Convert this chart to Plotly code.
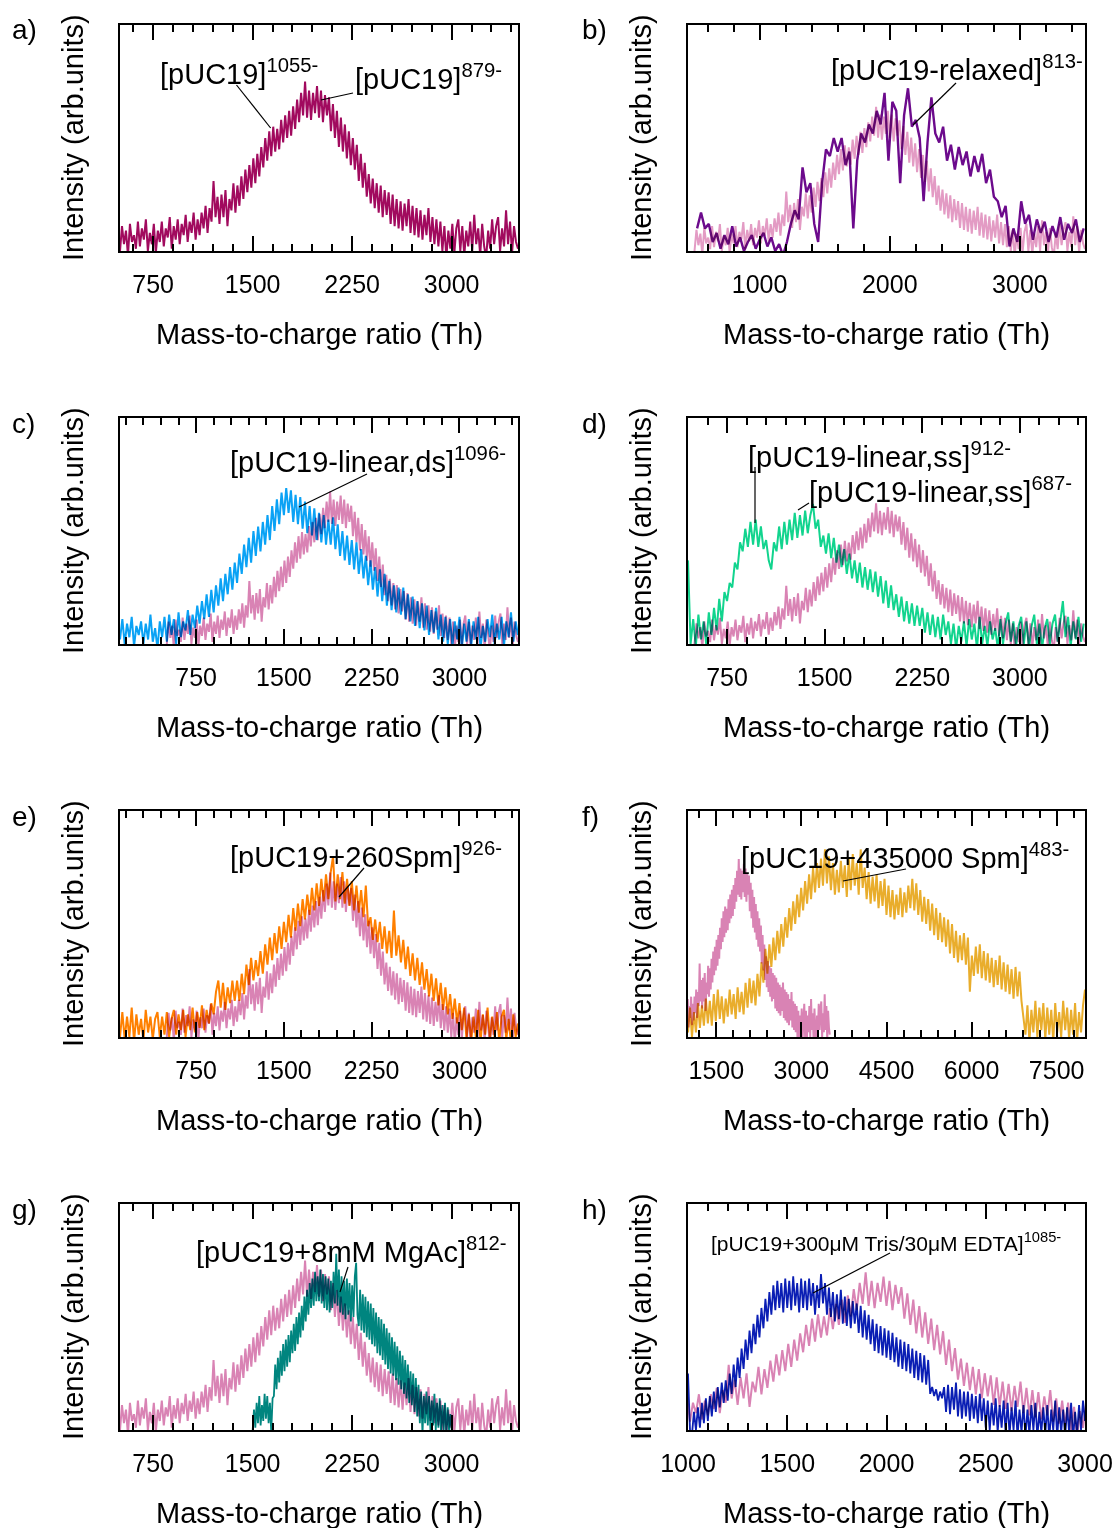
import plotly.graph_objects as go

W, H = 1117, 1528
FONT = "Liberation Sans, Arial, sans-serif"

# ---------------- data (normalised intensity, box height = 1) ----------------
# reference spectrum pUC19 (panel a; pink reference in the other panels)
ref_x0, ref_dx = 500, 15
ref_y = [0.00, 0.11, 0.03, 0.09, -0.02, 0.12, 0.04, 0.07, 0.01, 0.13,
         0.02, 0.10, 0.05, 0.14, 0.00, 0.08, 0.03, 0.12, -0.01, 0.09,
         0.04, 0.13, 0.02, 0.10, 0.06, 0.15, 0.01, 0.11, 0.05, 0.14,
         0.03, 0.12, 0.07, 0.16, 0.04, 0.13, 0.08, 0.17, 0.05, 0.14,
         0.07, 0.17, 0.10, 0.20, 0.08, 0.19, 0.13, 0.31, 0.15, 0.24,
         0.12, 0.25, 0.15, 0.27, 0.11, 0.23, 0.18, 0.30, 0.17, 0.29,
         0.20, 0.33, 0.23, 0.36, 0.26, 0.38, 0.28, 0.41, 0.30, 0.43,
         0.33, 0.46, 0.37, 0.50, 0.40, 0.53, 0.42, 0.55, 0.44, 0.54,
         0.45, 0.58, 0.48, 0.60, 0.50, 0.62, 0.51, 0.64, 0.54, 0.67,
         0.57, 0.70, 0.60, 0.75, 0.59, 0.71, 0.58, 0.70, 0.61, 0.73,
         0.59, 0.71, 0.57, 0.69, 0.60, 0.68, 0.53, 0.65, 0.50, 0.62,
         0.46, 0.59, 0.44, 0.56, 0.41, 0.53, 0.38, 0.50, 0.36, 0.47,
         0.31, 0.43, 0.28, 0.39, 0.24, 0.34, 0.21, 0.32, 0.19, 0.30,
         0.17, 0.29, 0.15, 0.27, 0.16, 0.26, 0.12, 0.25, 0.11, 0.23,
         0.10, 0.22, 0.09, 0.21, 0.11, 0.23, 0.08, 0.20, 0.07, 0.19,
         0.06, 0.18, 0.05, 0.16, 0.07, 0.19, 0.04, 0.15, 0.03, 0.14,
         0.02, 0.13, 0.00, 0.11, -0.03, 0.09, 0.01, 0.12, -0.01, 0.10,
         0.14, 0.00, 0.11, -0.02, 0.09, 0.02, 0.13, 0.00, 0.16, 0.03,
         0.10, -0.02, 0.12, 0.02, -0.03, 0.09, 0.01, 0.14, 0.03, 0.11,
         0.15, 0.00, 0.10, 0.02, 0.18, 0.03, 0.13, -0.01, 0.11, 0.04,
         0.01]

# b) pUC19-relaxed
relaxed_x0, relaxed_dx = 520, 30
relaxed_y = [0.10, 0.17, 0.10, 0.12, 0.04, 0.08, 0.01, 0.07, 0.03, 0.11,
             0.02, 0.06, 0.00, 0.04, 0.07, 0.01, 0.05, 0.08, 0.02, 0.06,
             0.00, 0.03, -0.02, 0.04, 0.12, 0.18, 0.14, 0.37, 0.26, 0.30,
             0.12, 0.04, 0.30, 0.45, 0.42, 0.50, 0.44, 0.50, 0.38, 0.44,
             0.10, 0.40, 0.52, 0.48, 0.56, 0.52, 0.62, 0.56, 0.70, 0.40,
             0.66, 0.62, 0.30, 0.60, 0.72, 0.55, 0.58, 0.50, 0.22, 0.48,
             0.68, 0.52, 0.48, 0.55, 0.40, 0.47, 0.36, 0.46, 0.38, 0.44,
             0.33, 0.42, 0.35, 0.43, 0.30, 0.36, 0.24, 0.22, 0.15, 0.20,
             0.02, 0.10, 0.04, 0.22, 0.12, 0.16, 0.05, 0.14, 0.08, 0.13,
             0.04, 0.11, 0.06, 0.15, 0.05, 0.12, 0.08, 0.14, 0.04, 0.10]

# c) pUC19-linear, ds
lin_ds_x0, lin_ds_dx = 100, 20
lin_ds_y = [0.02, 0.11, 0.00, 0.09, 0.03, 0.12, -0.01, 0.08, 0.04, 0.10,
            0.00, 0.09, 0.02, 0.13, 0.01, 0.07, -0.02, 0.10, 0.03, 0.12,
            0.01, 0.13, 0.04, 0.11, 0.00, 0.14, 0.03, 0.10, 0.06, 0.15,
            0.04, 0.13, 0.07, 0.17, 0.09, 0.19, 0.11, 0.22, 0.12, 0.24,
            0.14, 0.26, 0.17, 0.29, 0.19, 0.31, 0.22, 0.34, 0.24, 0.36,
            0.27, 0.40, 0.31, 0.44, 0.34, 0.47, 0.36, 0.50, 0.39, 0.52,
            0.41, 0.54, 0.44, 0.57, 0.46, 0.61, 0.50, 0.64, 0.53, 0.67,
            0.57, 0.69, 0.58, 0.68, 0.54, 0.66, 0.53, 0.65, 0.51, 0.63,
            0.49, 0.61, 0.48, 0.60, 0.46, 0.58, 0.45, 0.57, 0.44, 0.55,
            0.44, 0.56, 0.42, 0.53, 0.39, 0.50, 0.37, 0.48, 0.35, 0.46,
            0.33, 0.45, 0.31, 0.42, 0.29, 0.39, 0.26, 0.37, 0.24, 0.34,
            0.21, 0.33, 0.19, 0.31, 0.17, 0.28, 0.15, 0.26, 0.14, 0.25,
            0.13, 0.25, 0.11, 0.22, 0.10, 0.21, 0.08, 0.19, 0.07, 0.18,
            0.06, 0.17, 0.04, 0.15, 0.05, 0.16, 0.02, 0.13, 0.01, 0.12,
            0.00, 0.11, -0.01, 0.10, 0.02, 0.12, -0.02, 0.09, 0.01, 0.11,
            -0.01, 0.10, 0.02, 0.12, -0.02, 0.08, 0.01, 0.11, 0.03, 0.13,
            0.00, 0.09, 0.02, 0.12, -0.01, 0.10, 0.03, 0.14, 0.01, 0.10,
            0.04]

# d) pUC19-linear, ss
lin_ss_x0, lin_ss_dx = 450, 20
lin_ss_y = [0.37, 0.00, 0.11, -0.01, 0.13, 0.02, 0.10, 0.00, 0.14, 0.04,
            0.16, 0.06, 0.20, 0.10, 0.23, 0.19, 0.27, 0.25, 0.36, 0.33,
            0.45, 0.41, 0.51, 0.43, 0.54, 0.44, 0.55, 0.43, 0.52, 0.42,
            0.46, 0.37, 0.33, 0.45, 0.41, 0.52, 0.42, 0.54, 0.44, 0.55,
            0.46, 0.58, 0.47, 0.57, 0.48, 0.59, 0.49, 0.57, 0.62, 0.51,
            0.55, 0.43, 0.48, 0.40, 0.49, 0.38, 0.47, 0.36, 0.44, 0.34,
            0.42, 0.31, 0.40, 0.29, 0.37, 0.27, 0.36, 0.25, 0.34, 0.24,
            0.33, 0.23, 0.32, 0.21, 0.30, 0.18, 0.28, 0.16, 0.26, 0.15,
            0.22, 0.12, 0.21, 0.10, 0.19, 0.09, 0.18, 0.08, 0.17, 0.08,
            0.16, 0.05, 0.14, 0.04, 0.13, 0.03, 0.12, 0.02, 0.13, 0.04,
            0.10, 0.00, 0.09, -0.02, 0.08, 0.01, 0.10, -0.01, 0.11, 0.02,
            0.09, -0.02, 0.12, 0.00, 0.08, -0.01, 0.10, 0.02, 0.07, -0.02,
            0.11, 0.00, 0.09, 0.14, 0.01, 0.10, -0.01, 0.08, 0.12, 0.00,
            0.10, -0.02, 0.08, 0.13, 0.00, 0.09, -0.02, 0.07, 0.11, 0.00,
            0.09, 0.13, 0.01, 0.10, 0.19, 0.03, 0.12, -0.01, 0.10, 0.02,
            0.12, 0.01, 0.09]

# e) pUC19 + 260 Spm
spm260_x0, spm260_dx = 100, 20
spm260_y = [0.00, 0.11, -0.01, 0.09, 0.00, 0.13, -0.02, 0.10, 0.01, 0.08,
            -0.02, 0.12, 0.02, 0.09, -0.01, 0.08, 0.11, 0.00, 0.09, 0.01,
            0.11, 0.00, 0.08, 0.12, 0.01, 0.10, 0.03, 0.12, 0.00, 0.10,
            0.03, 0.13, 0.02, 0.11, 0.04, 0.14, 0.03, 0.12, 0.06, 0.15,
            0.10, 0.20, 0.25, 0.13, 0.24, 0.12, 0.22, 0.15, 0.25, 0.16,
            0.25, 0.16, 0.28, 0.19, 0.32, 0.23, 0.35, 0.25, 0.34, 0.27,
            0.38, 0.28, 0.41, 0.32, 0.44, 0.34, 0.46, 0.37, 0.49, 0.39,
            0.51, 0.42, 0.54, 0.44, 0.57, 0.47, 0.59, 0.49, 0.61, 0.52,
            0.63, 0.54, 0.66, 0.56, 0.68, 0.58, 0.70, 0.60, 0.72, 0.61,
            0.73, 0.80, 0.60, 0.72, 0.61, 0.73, 0.59, 0.70, 0.58, 0.69,
            0.56, 0.67, 0.55, 0.65, 0.53, 0.67, 0.49, 0.53, 0.43, 0.52,
            0.42, 0.51, 0.39, 0.49, 0.37, 0.47, 0.35, 0.56, 0.36, 0.45,
            0.33, 0.43, 0.30, 0.40, 0.27, 0.37, 0.25, 0.35, 0.23, 0.33,
            0.21, 0.30, 0.18, 0.28, 0.16, 0.26, 0.14, 0.24, 0.12, 0.22,
            0.10, 0.19, 0.08, 0.17, 0.06, 0.15, 0.03, 0.13, -0.01, 0.10,
            -0.02, 0.09, 0.00, 0.12, -0.02, 0.10, 0.01, 0.13, -0.01, 0.09,
            0.00, 0.11, -0.02, 0.09, 0.12, -0.01, 0.08, -0.03, 0.10, 0.00,
            0.06]

# f) pUC19 + 435000 Spm
spm435k_x0, spm435k_dx = 1000, 35
spm435k_y = [0.02, 0.13, 0.00, 0.11, 0.02, 0.15, 0.04, 0.14, 0.05, 0.17,
             0.06, 0.16, 0.05, 0.19, 0.07, 0.21, 0.08, 0.18, 0.06, 0.17,
             0.09, 0.21, 0.10, 0.19, 0.08, 0.22, 0.11, 0.20, 0.10, 0.24,
             0.13, 0.26, 0.15, 0.25, 0.14, 0.28, 0.18, 0.33, 0.24, 0.39,
             0.28, 0.41, 0.31, 0.44, 0.34, 0.47, 0.37, 0.50, 0.40, 0.53,
             0.44, 0.57, 0.47, 0.60, 0.50, 0.63, 0.53, 0.66, 0.56, 0.69,
             0.59, 0.72, 0.61, 0.75, 0.64, 0.77, 0.66, 0.79, 0.67, 0.83,
             0.68, 0.80, 0.65, 0.77, 0.63, 0.74, 0.64, 0.78, 0.66, 0.76,
             0.62, 0.79, 0.65, 0.81, 0.67, 0.77, 0.63, 0.83, 0.66, 0.75,
             0.61, 0.73, 0.59, 0.71, 0.60, 0.72, 0.57, 0.69, 0.58, 0.70,
             0.54, 0.67, 0.53, 0.65, 0.52, 0.63, 0.54, 0.66, 0.53, 0.64,
             0.55, 0.67, 0.57, 0.70, 0.56, 0.68, 0.54, 0.65, 0.51, 0.62,
             0.50, 0.61, 0.47, 0.59, 0.45, 0.57, 0.43, 0.55, 0.42, 0.53,
             0.40, 0.52, 0.37, 0.50, 0.35, 0.47, 0.33, 0.45, 0.34, 0.46,
             0.32, 0.44, 0.20, 0.36, 0.27, 0.40, 0.28, 0.41, 0.26, 0.38,
             0.25, 0.37, 0.24, 0.35, 0.22, 0.34, 0.23, 0.36, 0.21, 0.33,
             0.20, 0.32, 0.19, 0.30, 0.17, 0.31, 0.18, 0.29, 0.16, 0.08,
             0.01, 0.14, -0.02, 0.12, 0.02, 0.16, 0.00, 0.13, 0.03, 0.15,
             -0.01, 0.13, 0.01, 0.12, -0.02, 0.15, 0.02, 0.11, 0.00, 0.16,
             0.03, 0.13, -0.01, 0.12, 0.01, 0.15, -0.02, 0.11, 0.02, 0.14,
             0.21]

# g) pUC19 + 8 mM MgAc
mgac_x0, mgac_dx = 1500, 10
mgac_y = [0.00, 0.09, 0.01, 0.12, 0.03, 0.15, 0.02, 0.11, 0.04, 0.16,
          0.05, 0.15, 0.03, 0.12, -0.01, 0.14, 0.15, 0.29, 0.18, 0.32,
          0.21, 0.35, 0.24, 0.38, 0.26, 0.40, 0.28, 0.42, 0.30, 0.44,
          0.34, 0.47, 0.35, 0.50, 0.38, 0.52, 0.41, 0.55, 0.44, 0.59,
          0.48, 0.62, 0.51, 0.65, 0.54, 0.67, 0.55, 0.70, 0.57, 0.68,
          0.57, 0.71, 0.56, 0.69, 0.54, 0.68, 0.53, 0.67, 0.52, 0.66,
          0.54, 0.70, 0.56, 0.78, 0.55, 0.71, 0.52, 0.68, 0.51, 0.66,
          0.49, 0.67, 0.51, 0.65, 0.48, 0.64, 0.50, 0.68, 0.74, 0.51,
          0.46, 0.62, 0.44, 0.60, 0.43, 0.59, 0.41, 0.57, 0.40, 0.56,
          0.38, 0.54, 0.37, 0.52, 0.34, 0.50, 0.33, 0.49, 0.31, 0.47,
          0.29, 0.45, 0.27, 0.43, 0.25, 0.41, 0.24, 0.39, 0.22, 0.37,
          0.20, 0.35, 0.18, 0.33, 0.16, 0.31, 0.14, 0.29, 0.12, 0.26,
          0.11, 0.25, 0.08, 0.23, 0.06, 0.20, 0.03, 0.17, -0.02, 0.15,
          0.03, 0.17, 0.02, 0.15, 0.00, 0.13, 0.02, 0.16, 0.00, 0.12,
          0.01, 0.14, -0.01, 0.11, 0.00, 0.12, -0.02, 0.10, 0.00, 0.07,
          0.00]

# h) pUC19 + 300 uM Tris / 30 uM EDTA
tris_x0, tris_dx = 1000, 10
tris_y = [0.25, 0.00, -0.02, 0.08, 0.00, 0.10, 0.01, 0.12, 0.03, 0.14,
          0.04, 0.15, 0.06, 0.17, 0.08, 0.19, 0.10, 0.21, 0.12, 0.22,
          0.13, 0.25, 0.16, 0.29, 0.19, 0.32, 0.23, 0.36, 0.27, 0.40,
          0.31, 0.44, 0.34, 0.47, 0.38, 0.51, 0.41, 0.54, 0.45, 0.58,
          0.48, 0.61, 0.51, 0.64, 0.53, 0.66, 0.54, 0.65, 0.52, 0.67,
          0.54, 0.66, 0.53, 0.68, 0.55, 0.65, 0.52, 0.67, 0.54, 0.66,
          0.53, 0.67, 0.55, 0.65, 0.51, 0.64, 0.54, 0.69, 0.56, 0.65,
          0.51, 0.63, 0.50, 0.61, 0.48, 0.60, 0.49, 0.62, 0.47, 0.59,
          0.46, 0.58, 0.45, 0.57, 0.47, 0.56, 0.43, 0.55, 0.41, 0.53,
          0.40, 0.51, 0.38, 0.49, 0.35, 0.47, 0.34, 0.46, 0.33, 0.45,
          0.32, 0.44, 0.31, 0.43, 0.30, 0.41, 0.28, 0.40, 0.27, 0.39,
          0.26, 0.38, 0.25, 0.36, 0.23, 0.35, 0.22, 0.34, 0.21, 0.33,
          0.20, 0.31, 0.16, 0.19, 0.15, 0.18, 0.13, 0.17, 0.14, 0.19,
          0.08, 0.20, 0.07, 0.19, 0.09, 0.21, 0.06, 0.18, 0.05, 0.17,
          0.06, 0.17, 0.04, 0.16, 0.05, 0.15, 0.03, 0.16, 0.04, 0.14,
          0.01, 0.13, 0.00, 0.12, 0.02, 0.14, -0.01, 0.11, 0.01, 0.13,
          -0.01, 0.12, -0.02, 0.10, 0.00, 0.13, -0.03, 0.09, -0.01, 0.11,
          -0.03, 0.09, -0.02, 0.11, 0.00, 0.12, -0.03, 0.08, -0.01, 0.10,
          -0.02, 0.11, -0.04, 0.09, 0.00, 0.13, -0.03, 0.10, -0.01, 0.09,
          -0.03, 0.10, -0.01, 0.12, -0.04, 0.08, -0.02, 0.11, 0.00, 0.13,
          0.04]

# relative scaling of the pink reference trace in each panel
ref_scale = {"b": 0.85, "c": 0.90, "d": 0.83, "e": 0.97, "f": 1.05, "g": 1.00, "h": 0.93}

# axis ranges / ticks per panel
x_ranges = {"a": [500, 3500], "b": [450, 3500], "c": [100, 3500], "d": [450, 3500],
            "e": [100, 3500], "f": [1000, 8000], "g": [500, 3500], "h": [1000, 3000]}
major_dt = {"a": 750, "b": 1000, "c": 750, "d": 750, "e": 750, "f": 1500, "g": 750, "h": 500}
minor_dt = {"a": 150, "b": 200, "c": 150, "d": 150, "e": 150, "f": 300, "g": 150, "h": 100}

# ---------------- styling ----------------
PINK = "#D983B4"
pink_colors = {"b": "#E39BC4"}
colors = {"a": "#A10A5E", "b": "#6C0A8C", "c": "#0AA2F5", "d": "#12D48E",
          "e": "#FF8000", "f": "#E9AD2C", "g": "#00857F", "h": "#0A1EB4"}
widths = {"a": 2.0, "b": 2.4, "c": 2.0, "d": 2.0, "e": 2.0, "f": 2.0, "g": 1.8, "h": 1.8}

series = {"a": (ref_x0, ref_dx, ref_y),
          "b": (relaxed_x0, relaxed_dx, relaxed_y),
          "c": (lin_ds_x0, lin_ds_dx, lin_ds_y),
          "d": (lin_ss_x0, lin_ss_dx, lin_ss_y),
          "e": (spm260_x0, spm260_dx, spm260_y),
          "f": (spm435k_x0, spm435k_dx, spm435k_y),
          "g": (mgac_x0, mgac_dx, mgac_y),
          "h": (tris_x0, tris_dx, tris_y)}

letters = ["a", "b", "c", "d", "e", "f", "g", "h"]
col_px = [(120, 518), (688, 1085)]
row_px = [(25, 251), (418, 644), (811, 1037), (1204, 1430)]


def fx(px):
    return px / W


def fy(py):
    return 1 - py / H


def grid(x0, dx, n):
    return [x0 + dx * i for i in range(n)]


fig = go.Figure()
layout = {}
annotations = []
shapes = []

for k, L in enumerate(letters):
    r, c = divmod(k, 2)
    idx = "" if k == 0 else str(k + 1)
    xa, ya = "x" + idx, "y" + idx
    (x0p, x1p), (y0p, y1p) = col_px[c], row_px[r]

    if L != "a":
        sc = ref_scale[L]
        fig.add_trace(go.Scatter(x=grid(ref_x0, ref_dx, len(ref_y)), y=[v * sc for v in ref_y],
                                 mode="lines", line=dict(color=pink_colors.get(L, PINK), width=2.0),
                                 xaxis=xa, yaxis=ya, showlegend=False, hoverinfo="skip"))
    sx0, sdx, sy = series[L]
    fig.add_trace(go.Scatter(x=grid(sx0, sdx, len(sy)), y=sy, mode="lines",
                             line=dict(color=colors[L], width=widths[L]),
                             xaxis=xa, yaxis=ya, showlegend=False, hoverinfo="skip"))

    layout["xaxis" + idx] = dict(
        domain=[fx(x0p), fx(x1p)], anchor=ya, range=x_ranges[L],
        showline=True, linecolor="black", linewidth=2, mirror="allticks",
        ticks="inside", ticklen=15, tickwidth=2, tickcolor="black",
        tick0=0, dtick=major_dt[L], ticklabelstandoff=10,
        minor=dict(ticks="inside", ticklen=7, tickwidth=2, tickcolor="black",
                   dtick=minor_dt[L], tick0=0, showgrid=False),
        showgrid=False, zeroline=False,
        tickfont=dict(family=FONT, size=25, color="black"))
    layout["yaxis" + idx] = dict(
        domain=[fy(y1p), fy(y0p)], anchor=xa, range=[0, 1],
        showline=True, linecolor="black", linewidth=2, mirror=True,
        ticks="", showticklabels=False, showgrid=False, zeroline=False)

    # axis titles
    annotations.append(dict(text="Mass-to-charge ratio (Th)", xref="paper", yref="paper",
                            x=fx((x0p + x1p) / 2), y=fy(y1p + 83), xanchor="center", yanchor="middle",
                            showarrow=False, font=dict(family=FONT, size=29, color="black")))
    annotations.append(dict(text="Intensity (arb.units)", xref="paper", yref="paper",
                            x=fx(x0p - 47), y=fy((y0p + y1p) / 2), xanchor="center", yanchor="middle",
                            textangle=-90, showarrow=False,
                            font=dict(family=FONT, size=29, color="black")))
    # panel letter
    annotations.append(dict(text=L + ")", xref="paper", yref="paper",
                            x=fx(x0p - 110 + (0 if c == 0 else 2)), y=fy(y0p + 5), xanchor="left",
                            yanchor="middle", showarrow=False,
                            font=dict(family=FONT, size=28, color="black")))

# peak labels (left px, centre px, text, size)
labels = [
    (158, 72, "[pUC19]<sup>1055-</sup>", 29),
    (353, 77, "[pUC19]<sup>879-</sup>", 29),
    (829, 68, "[pUC19-relaxed]<sup>813-</sup>", 29),
    (228, 460, "[pUC19-linear,ds]<sup>1096-</sup>", 29),
    (746, 455, "[pUC19-linear,ss]<sup>912-</sup>", 29),
    (807, 490, "[pUC19-linear,ss]<sup>687-</sup>", 29),
    (228, 855, "[pUC19+260Spm]<sup>926-</sup>", 29),
    (739, 856, "[pUC19+435000 Spm]<sup>483-</sup>", 29),
    (194, 1250, "[pUC19+8mM MgAc]<sup>812-</sup>", 29),
    (709, 1242, "[pUC19+300μM Tris/30μM EDTA]<sup>1085-</sup>", 21),
]
for lx, ly, t, s in labels:
    annotations.append(dict(text=t, xref="paper", yref="paper", x=fx(lx), y=fy(ly),
                            xanchor="left", yanchor="middle", showarrow=False,
                            font=dict(family=FONT, size=s, color="black")))

leaders = [((236.5, 85), (270.6, 128)), ((353, 93), (321, 100)),
           ((956, 83), (913, 125)), ((367, 474), (299, 507)),
           ((755, 467), (755, 523)), ((809, 503), (798, 510)),
           ((364, 868), (339, 897)), ((906, 869), (843, 881)),
           ((348, 1267), (340, 1292)), ((890, 1253), (813, 1293))]
for (ax0, ay0), (ax1, ay1) in leaders:
    shapes.append(dict(type="line", xref="paper", yref="paper",
                       x0=fx(ax0), y0=fy(ay0), x1=fx(ax1), y1=fy(ay1),
                       line=dict(color="black", width=1.2)))

fig.update_layout(width=W, height=H, margin=dict(l=0, r=0, t=0, b=0, autoexpand=False),
                  paper_bgcolor="white", plot_bgcolor="white",
                  showlegend=False, hovermode=False,
                  annotations=annotations, shapes=shapes,
                  font=dict(family=FONT, color="black"), **layout)

blend_js = """
var gd = document.getElementById('{plot_id}');
function blendTraces(){
  gd.querySelectorAll('.scatterlayer .trace').forEach(function(t){ t.style.mixBlendMode = 'multiply'; });
}
blendTraces();
if (gd.on) { gd.on('plotly_afterplot', blendTraces); }
"""
fig.write_html("out.html", config={"displayModeBar": False}, post_script=blend_js)
